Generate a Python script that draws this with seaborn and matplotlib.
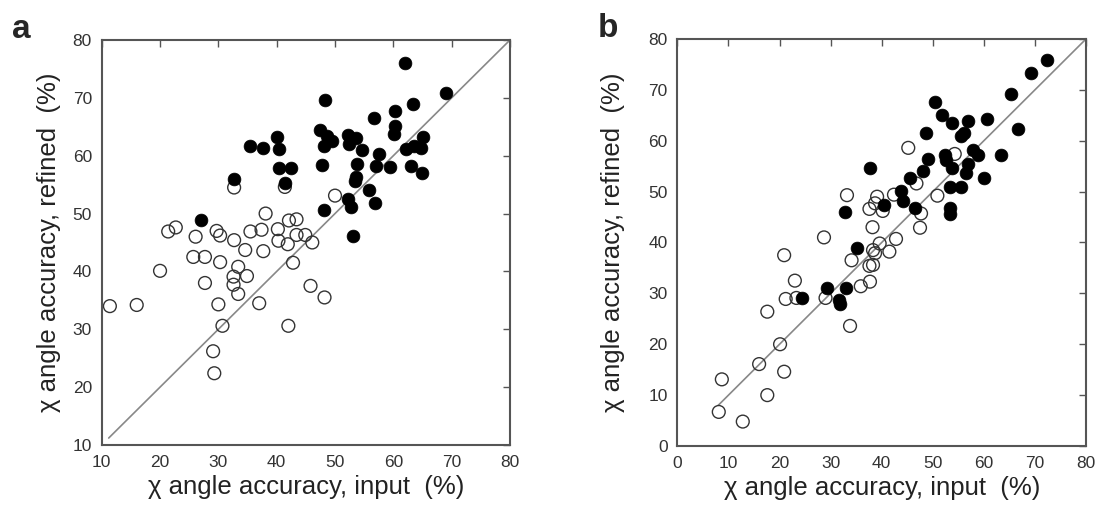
import pandas as pd
import seaborn as sns
import matplotlib.pyplot as plt

# panel a: chi angle accuracy, input vs refined
a_filled_x = [62.0, 69.0, 48.3, 63.4, 60.2, 56.7, 60.3, 60.1, 47.4, 48.6, 48.1, 49.4, 52.3, 53.6,
              52.4, 54.7, 57.6, 62.2, 63.6, 65.0, 64.7, 47.8, 53.7, 57.0, 59.4, 63.0, 64.9, 53.6,
              53.5, 55.9, 52.3, 52.7, 56.9, 48.1, 53.1, 40.0, 35.5, 37.7, 40.4, 40.4, 42.4, 41.5,
              32.7, 27.0]
a_filled_y = [76.1, 70.8, 69.6, 68.9, 67.7, 66.5, 65.2, 63.8, 64.5, 63.4, 61.6, 62.5, 63.6, 63.0,
              62.1, 61.0, 60.3, 61.2, 61.7, 63.3, 61.3, 58.4, 58.5, 58.3, 58.0, 58.2, 57.0, 56.4,
              55.7, 54.1, 52.5, 51.1, 51.8, 50.7, 46.1, 63.3, 61.7, 61.4, 61.2, 57.9, 57.9, 55.2,
              55.9, 48.9]
a_open_x = [41.4, 32.7, 50.0, 38.1, 21.4, 22.7, 26.1, 29.7, 30.3, 32.7, 35.5, 37.4, 40.2, 42.1,
            43.4, 40.3, 41.9, 43.4, 44.9, 46.1, 34.6, 37.7, 25.7, 27.7, 30.3, 20.0, 33.4, 32.6,
            34.9, 27.7, 32.6, 33.4, 11.4, 16.0, 30.0, 37.0, 42.8, 45.8, 48.2, 30.7, 42.0, 29.1,
            29.3]
a_open_y = [54.6, 54.5, 53.1, 50.0, 46.9, 47.6, 46.0, 47.0, 46.2, 45.4, 46.9, 47.2, 47.3, 48.8,
            49.0, 45.3, 44.7, 46.3, 46.3, 45.0, 43.7, 43.5, 42.5, 42.5, 41.6, 40.1, 40.8, 39.1,
            39.2, 38.0, 37.7, 36.1, 34.0, 34.2, 34.3, 34.5, 41.5, 37.5, 35.5, 30.6, 30.6, 26.2,
            22.4]

# panel b
b_filled_x = [72.4, 69.3, 65.3, 66.6, 50.5, 51.9, 53.7, 56.8, 60.7, 48.7, 55.5, 56.2, 52.4, 57.8,
              58.8, 63.3, 49.0, 52.6, 56.9, 53.7, 37.7, 48.1, 56.5, 45.5, 60.0, 53.3, 55.6, 43.8,
              44.1, 40.5, 46.5, 32.8, 53.3, 53.3, 35.1, 33.0, 29.2, 24.3, 31.7, 31.8]
b_filled_y = [75.8, 73.3, 69.1, 62.4, 67.6, 65.0, 63.5, 63.9, 64.2, 61.6, 61.0, 61.6, 57.2, 58.2,
              57.2, 57.2, 56.5, 56.2, 55.5, 54.7, 54.7, 54.1, 53.6, 52.7, 52.7, 50.9, 50.9, 50.2,
              48.1, 47.3, 46.7, 45.9, 46.7, 45.5, 39.0, 31.0, 31.0, 29.0, 28.7, 27.9]
b_open_x = [45.2, 54.3, 46.8, 42.4, 50.9, 33.2, 39.1, 38.7, 37.6, 40.2, 47.7, 38.2, 47.5, 42.8,
            39.6, 34.1, 38.3, 41.5, 38.7, 37.6, 38.3, 37.7, 35.9, 33.8, 28.7, 20.9, 23.0, 21.2,
            23.3, 29.0, 17.6, 20.1, 16.0, 20.9, 8.7, 17.6, 8.1, 12.8]
b_open_y = [58.6, 57.4, 51.6, 49.4, 49.2, 49.3, 49.0, 47.7, 46.6, 46.2, 45.7, 43.0, 42.9, 40.7,
            39.8, 36.5, 38.5, 38.2, 37.9, 35.4, 35.6, 32.3, 31.4, 23.6, 41.0, 37.5, 32.5, 28.9,
            29.1, 29.1, 26.4, 20.0, 16.1, 14.6, 13.1, 10.0, 6.7, 4.8]

ticks_a = [10, 20, 30, 40, 50, 60, 70, 80]
ticks_b = [0, 10, 20, 30, 40, 50, 60, 70, 80]

sns.set_style("white")
plt.rcParams['font.family'] = ['Liberation Sans', 'DejaVu Sans']

fig = plt.figure(figsize=(11.02, 5.12), dpi=100)
ax_a = fig.add_axes([0.0923, 0.1309, 0.3705, 0.791])
ax_b = fig.add_axes([0.6147, 0.1289, 0.3708, 0.795])

panels = [
    (ax_a, a_filled_x, a_filled_y, a_open_x, a_open_y, ticks_a, 11.2, "a", -0.22, 8.5),
    (ax_b, b_filled_x, b_filled_y, b_open_x, b_open_y, ticks_b, 8.0, "b", -0.195, 17),
]

for ax, fx, fy, ox, oy, ticks, start, letter, lx, ypad in panels:
    lo, hi = ticks[0], ticks[-1]
    ax.plot([start, hi], [start, hi], color="#888888", lw=1.2, zorder=1)
    df_open = pd.DataFrame({"x": ox, "y": oy})
    df_fill = pd.DataFrame({"x": fx, "y": fy})
    sns.scatterplot(data=df_open, x="x", y="y", ax=ax, s=85, marker="o",
                    facecolor="none", edgecolor="#333333", linewidth=1.0, zorder=2)
    sns.scatterplot(data=df_fill, x="x", y="y", ax=ax, s=85, marker="o",
                    color="black", edgecolor="black", linewidth=0.5, zorder=3)
    ax.set_xlim(lo, hi)
    ax.set_ylim(lo, hi)
    ax.set_xticks(ticks)
    ax.set_yticks(ticks)
    ax.tick_params(direction="in", length=5, width=1, colors="#555555",
                   top=True, right=True, labelsize=12.5, labelcolor="#333333", pad=7)
    for sp in ax.spines.values():
        sp.set_color("#555555")
        sp.set_linewidth(1.5)
    ax.set_xlabel("\u03c7 angle accuracy, input  (%)", fontsize=18.5, color="#222222", labelpad=4)
    ax.set_ylabel("\u03c7 angle accuracy, refined  (%)", fontsize=18.5, color="#222222", labelpad=ypad)
    ax.text(lx, 1.005, letter, transform=ax.transAxes, fontsize=24, fontweight="bold",
            va="baseline", ha="left")

fig.savefig("out.png", dpi=100)
